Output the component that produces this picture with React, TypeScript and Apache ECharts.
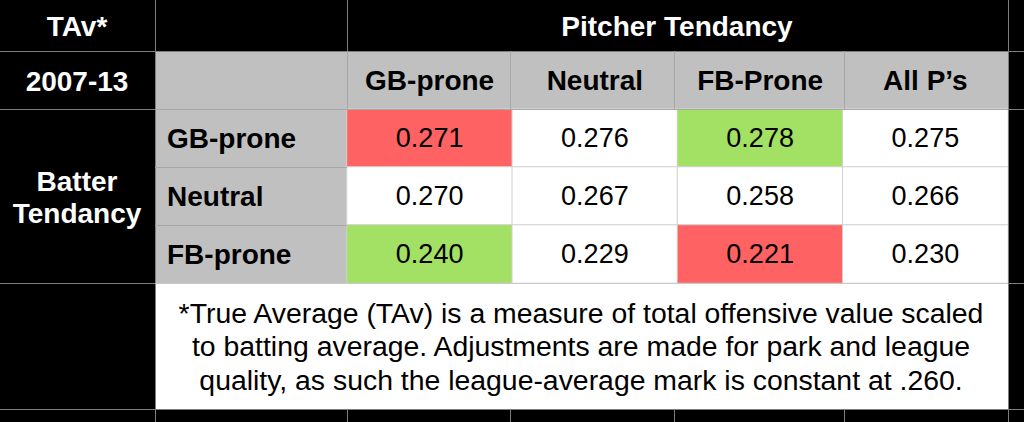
import React, { useEffect, useRef } from "react";
import * as echarts from "echarts";

const pitcherCols = ["GB-prone", "Neutral", "FB-Prone", "All P’s"];
const batterRows = ["GB-prone", "Neutral", "FB-prone"];
const gbRow = [0.271, 0.276, 0.278, 0.275];
const neutralRow = [0.27, 0.267, 0.258, 0.266];
const fbRow = [0.24, 0.229, 0.221, 0.23];
// highlight: 0 = none, 1 = red, 2 = green
const gbHi = [1, 0, 2, 0];
const neutralHi = [0, 0, 0, 0];
const fbHi = [2, 0, 1, 0];
const footnote = [
  "*True Average (TAv) is a measure of total offensive value scaled",
  "to batting average. Adjustments are made for park and league",
  "quality, as such the league-average mark is constant at .260.",
];

const FONT = "'Liberation Sans', Arial, Helvetica, sans-serif";
const RED = "#fe6262";
const GREEN = "#a2e163";

export default function App() {
  const ref = useRef<HTMLDivElement>(null);
  useEffect(() => {
    if (!ref.current) return;
    const chart = echarts.init(ref.current, null, { renderer: "svg" });
    const rows = [gbRow, neutralRow, fbRow];
    const his = [gbHi, neutralHi, fbHi];
    const data: any[] = [];
    rows.forEach((r, yi) =>
      r.forEach((v, xi) => {
        data.push([xi, yi, v, his[yi][xi]]);
      })
    );

    const W = 1024;
    const H = 422;
    const c1 = 155, c2 = 347, c6 = 1008;
    const colLines = [510, 674, 844];
    const r1 = 51, r2 = 109, r5 = 283, r6 = 409;
    const rowLines = [167, 225];
    const dark = "#7d7d7d";
    const grayLine = "#a8a8a8";
    const line = (x1: number, y1: number, x2: number, y2: number, color: string) => ({
      type: "line",
      shape: { x1, y1, x2, y2 },
      style: { stroke: color, lineWidth: 1 },
      z: 10,
      silent: true,
    });
    const txt = (x: number, y: number, text: string, size: number, color: string, weight: string, lh?: number) => ({
      type: "text",
      x,
      y,
      style: {
        text,
        fill: color,
        font: `${weight} ${size}px ${FONT}`,
        align: "center",
        verticalAlign: "middle",
        lineHeight: lh,
      },
      z: 20,
      silent: true,
    });

    const graphic: any[] = [
      { type: "rect", shape: { x: c1, y: r1, width: c6 - c1, height: r2 - r1 }, style: { fill: "#c0c0c0" }, z: 0 },
      { type: "rect", shape: { x: c1, y: r2, width: c2 - c1, height: r5 - r2 }, style: { fill: "#c0c0c0" }, z: 0 },
      { type: "rect", shape: { x: c1, y: r5, width: c6 - c1, height: r6 - r5 }, style: { fill: "#ffffff" }, z: 0 },
      // dark-area lines
      line(c1 + 0.5, 0, c1 + 0.5, H, dark),
      line(c2 + 0.5, 0, c2 + 0.5, r1, dark),
      line(c2 + 0.5, r6, c2 + 0.5, H, dark),
      line(c6 + 0.5, 0, c6 + 0.5, H, dark),
      ...colLines.map((x) => line(x + 0.5, r6, x + 0.5, H, dark)),
      line(0, r1 + 0.5, W, r1 + 0.5, dark),
      line(0, r2 + 0.5, c1, r2 + 0.5, dark),
      line(c6, r2 + 0.5, W, r2 + 0.5, dark),
      line(0, r5 + 0.5, c1, r5 + 0.5, dark),
      line(c6, r5 + 0.5, W, r5 + 0.5, dark),
      line(0, r6 + 0.5, W, r6 + 0.5, dark),
      // gray-area lines
      ...[c2, ...colLines].map((x) => line(x + 0.5, r1, x + 0.5, r2, grayLine)),
      line(c1, r2 + 0.5, c6, r2 + 0.5, grayLine),
      ...rowLines.map((y) => line(c1, y + 0.5, c2, y + 0.5, grayLine)),
      line(c1, r5 + 0.5, c6, r5 + 0.5, "#c8c8c8"),
      // texts
      txt(77, 26, "TAv*", 28, "#ffffff", "bold"),
      txt(77, 81, "2007-13", 28, "#ffffff", "bold"),
      txt(77, 197, "Batter\nTendancy", 28, "#ffffff", "bold", 32),
      txt(677, 26, "Pitcher Tendancy", 28, "#ffffff", "bold"),
      txt(581, 346, footnote.join("\n"), 28.4, "#000000", "normal", 33.5),
    ];

    chart.setOption({
      animation: false,
      backgroundColor: "#000000",
      grid: { left: c2, right: W - c6, top: r2, bottom: H - r5, containLabel: false },
      xAxis: {
        type: "category",
        position: "top",
        data: pitcherCols,
        axisLine: { show: false },
        axisTick: { show: false },
        splitLine: { show: false },
        axisLabel: {
          margin: 29,
          verticalAlign: "middle",
          fontSize: 28,
          fontWeight: "bold",
          fontFamily: FONT,
          color: "#000000",
          interval: 0,
        },
      },
      yAxis: {
        type: "category",
        inverse: true,
        data: batterRows,
        axisLine: { show: false },
        axisTick: { show: false },
        splitLine: { show: false },
        axisLabel: {
          margin: c2 - 167,
          align: "left",
          fontSize: 28,
          fontWeight: "bold",
          fontFamily: FONT,
          color: "#000000",
        },
      },
      visualMap: {
        type: "piecewise",
        show: false,
        dimension: 3,
        seriesIndex: 0,
        pieces: [
          { value: 0, color: "#ffffff" },
          { value: 1, color: RED },
          { value: 2, color: GREEN },
        ],
      },
      graphic,
      series: [
        {
          type: "heatmap",
          data,
          itemStyle: { borderColor: "#d0d0d0", borderWidth: 1 },
          emphasis: { disabled: true },
          label: {
            show: true,
            formatter: (p: any) => p.value[2].toFixed(3),
            fontSize: 27,
            fontFamily: FONT,
            color: "#000000",
          },
        },
      ],
    });
    return () => chart.dispose();
  }, []);
  return (
    <div
      ref={ref}
      style={{ position: "fixed", left: 0, top: 0, width: 1024, height: 422 }}
    />
  );
}
